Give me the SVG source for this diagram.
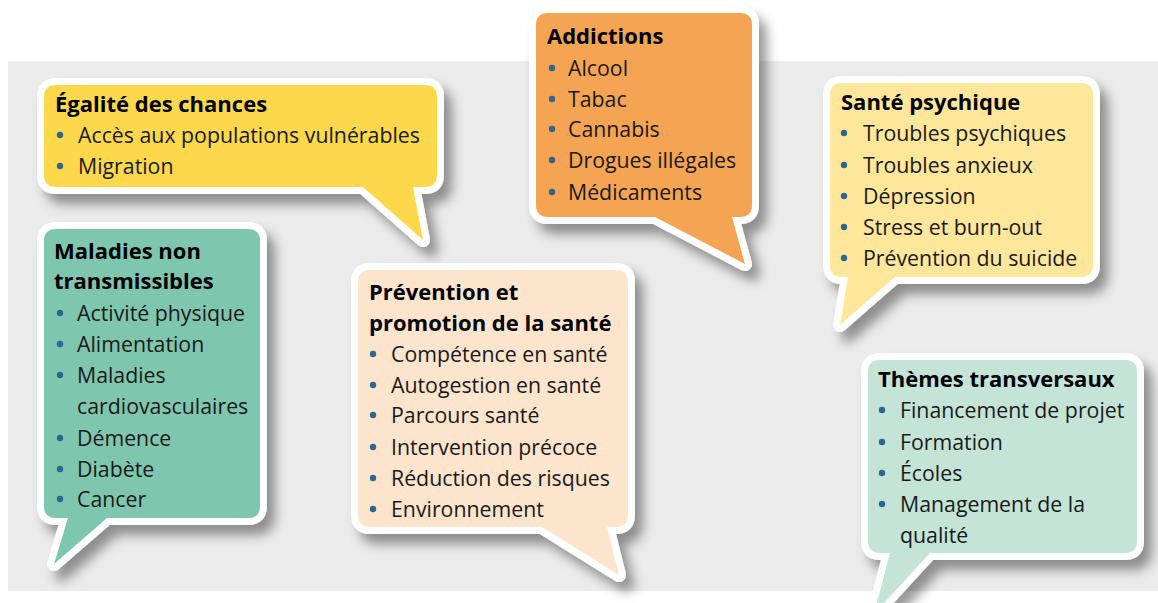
<svg xmlns="http://www.w3.org/2000/svg" width="1158" height="603" viewBox="0 0 1158 603">
<defs>
<filter id="sh" x="-20%" y="-20%" width="140%" height="140%">
<feDropShadow dx="8" dy="10" stdDeviation="6" flood-color="#000" flood-opacity="0.4"/>
</filter>
</defs>
<style>
.b{stroke:#fff;stroke-width:14;stroke-linejoin:round;paint-order:stroke;filter:url(#sh)}
text{font-family:"Open Sans","Noto Sans","DejaVu Sans",sans-serif;font-size:21.3px;fill:#1a1a1a}
.t{font-weight:bold;fill:#000;font-size:22px}
.d{fill:#2f6690}
</style>
<rect x="8" y="61" width="1150" height="530" fill="#ebebeb"/>

<g id="egalite">
<path class="b" fill="#fdd84b" d="M56,85 H425 Q437,85 437,97 V175 Q437,187 425,187 H413 L423,240 L363,187 H56 Q44,187 44,175 V97 Q44,85 56,85 Z"/>
<text class="t" x="55" y="112">Égalité des chances</text>
<circle class="d" cx="60" cy="135" r="3.2"/><text x="78" y="143">Accès aux populations vulnérables</text>
<circle class="d" cx="60" cy="166" r="3.2"/><text x="78" y="174">Migration</text>
</g>

<g id="addictions">
<path class="b" fill="#f5a452" d="M548,13 H740 Q752,13 752,25 V205 Q752,217 740,217 H732 L745,264 L655,217 H548 Q536,217 536,205 V25 Q536,13 548,13 Z"/>
<text class="t" x="547" y="44">Addictions</text>
<circle class="d" cx="552" cy="68" r="3.2"/><text x="568" y="76">Alcool</text>
<circle class="d" cx="552" cy="99" r="3.2"/><text x="568" y="107">Tabac</text>
<circle class="d" cx="552" cy="129" r="3.2"/><text x="568" y="137">Cannabis</text>
<circle class="d" cx="552" cy="160" r="3.2"/><text x="568" y="168">Drogues illégales</text>
<circle class="d" cx="552" cy="192" r="3.2"/><text x="568" y="200">Médicaments</text>
</g>

<g id="sante-psychique">
<path class="b" fill="#fee79a" d="M842,83 H1081 Q1093,83 1093,95 V265 Q1093,277 1081,277 H895 L840,325 L848,277 H842 Q830,277 830,265 V95 Q830,83 842,83 Z"/>
<text class="t" x="841" y="110">Santé psychique</text>
<circle class="d" cx="844" cy="133" r="3.2"/><text x="863" y="141">Troubles psychiques</text>
<circle class="d" cx="844" cy="165" r="3.2"/><text x="863" y="173">Troubles anxieux</text>
<circle class="d" cx="844" cy="196" r="3.2"/><text x="863" y="204">Dépression</text>
<circle class="d" cx="844" cy="227" r="3.2"/><text x="863" y="235">Stress et burn-out</text>
<circle class="d" cx="844" cy="258" r="3.2"/><text x="863" y="266">Prévention du suicide</text>
</g>

<g id="maladies">
<path class="b" fill="#7fc6ae" d="M56,229 H248 Q260,229 260,241 V506 Q260,518 248,518 H107 L54,564 L68,518 H56 Q44,518 44,506 V241 Q44,229 56,229 Z"/>
<text class="t" x="54" y="259">Maladies non</text>
<text class="t" x="54" y="289">transmissibles</text>
<circle class="d" cx="60" cy="313" r="3.2"/><text x="77" y="321">Activité physique</text>
<circle class="d" cx="60" cy="344" r="3.2"/><text x="77" y="352">Alimentation</text>
<circle class="d" cx="60" cy="375" r="3.2"/><text x="77" y="383">Maladies</text>
<text x="77" y="414">cardiovasculaires</text>
<circle class="d" cx="60" cy="438" r="3.2"/><text x="77" y="446">Démence</text>
<circle class="d" cx="60" cy="469" r="3.2"/><text x="77" y="477">Diabète</text>
<circle class="d" cx="60" cy="499" r="3.2"/><text x="77" y="507">Cancer</text>
</g>

<g id="prevention">
<path class="b" fill="#fde4cc" d="M370,270 H616 Q628,270 628,282 V515 Q628,527 616,527 H607 L619,575 L542,527 H370 Q358,527 358,515 V282 Q358,270 370,270 Z"/>
<text class="t" x="369" y="300">Prévention et</text>
<text class="t" x="369" y="331">promotion de la santé</text>
<circle class="d" cx="373" cy="354" r="3.2"/><text x="391" y="362">Compétence en santé</text>
<circle class="d" cx="373" cy="385" r="3.2"/><text x="391" y="393">Autogestion en santé</text>
<circle class="d" cx="373" cy="415" r="3.2"/><text x="391" y="423">Parcours santé</text>
<circle class="d" cx="373" cy="447" r="3.2"/><text x="391" y="455">Intervention précoce</text>
<circle class="d" cx="373" cy="478" r="3.2"/><text x="391" y="486">Réduction des risques</text>
<circle class="d" cx="373" cy="509" r="3.2"/><text x="391" y="517">Environnement</text>
</g>

<g id="themes">
<path class="b" fill="#c3e4d7" d="M880,360 H1125 Q1137,360 1137,372 V541 Q1137,553 1125,553 H930 L874,614 L890,553 H880 Q868,553 868,541 V372 Q868,360 880,360 Z"/>
<text class="t" x="878" y="387">Thèmes transversaux</text>
<circle class="d" cx="882" cy="410" r="3.2"/><text x="900" y="418">Financement de projet</text>
<circle class="d" cx="882" cy="442" r="3.2"/><text x="900" y="450">Formation</text>
<circle class="d" cx="882" cy="473" r="3.2"/><text x="900" y="481">Écoles</text>
<circle class="d" cx="882" cy="504" r="3.2"/><text x="900" y="512">Management de la</text>
<text x="900" y="543">qualité</text>
</g>
</svg>
